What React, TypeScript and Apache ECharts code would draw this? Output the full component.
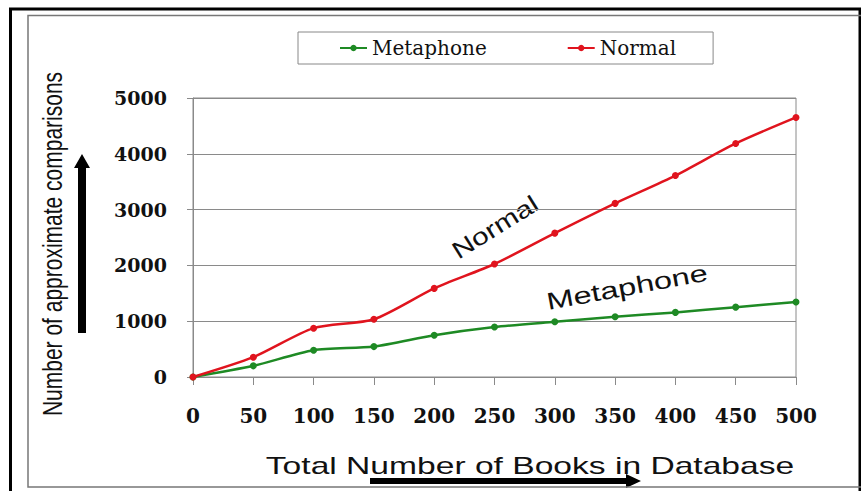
import React, { useEffect, useRef } from "react";
import * as echarts from "echarts";

const books = [0, 50, 100, 150, 200, 250, 300, 350, 400, 450, 500];
const metaphone = [0, 200, 480, 545, 748, 895, 990, 1080, 1158, 1252, 1345];
const normal = [0, 355, 875, 1035, 1588, 2025, 2578, 3112, 3610, 4185, 4652];
const seriesNames = ["Metaphone", "Normal"];
const yTitle = "Number of approximate comparisons";
const xTitle = "Total Number of Books in Database";

const RED = "#e0141e";
const GREEN = "#1e8a24";

export default function App() {
  const ref = useRef<HTMLDivElement>(null);
  useEffect(() => {
    const chart = echarts.init(ref.current!, null, { renderer: "svg" });
    const serifBold = {
      fontFamily: "DejaVu Serif",
      fontWeight: "bold" as const,
      color: "#111",
    };
    chart.setOption({
      animation: false,
      backgroundColor: "#fff",
      grid: {
        left: 193,
        right: 65,
        top: 98,
        bottom: 114,
        show: true,
        borderColor: "#8a8a8a",
        borderWidth: 1,
      },
      legend: {
        data: seriesNames,
        left: 298,
        top: 32,
        padding: [6, 37, 6, 41],
        itemGap: 80,
        itemWidth: 27,
        itemHeight: 8,
        borderColor: "#888",
        borderWidth: 1,
        textStyle: { fontFamily: "DejaVu Serif", fontSize: 20, color: "#111" },
      },
      xAxis: {
        type: "value",
        min: 0,
        max: 500,
        interval: 50,
        axisLine: { show: true, lineStyle: { color: "#8a8a8a", width: 1 } },
        axisTick: { show: true, length: 8, lineStyle: { color: "#8a8a8a" } },
        splitLine: { show: false },
        axisLabel: {
          ...serifBold,
          fontSize: 20,
          margin: 29,
          formatter: (v: number) => String(v),
        },
      },
      yAxis: {
        type: "value",
        min: 0,
        max: 5000,
        interval: 1000,
        axisLine: { show: true, lineStyle: { color: "#8a8a8a", width: 1 } },
        axisTick: { show: true, length: 6, lineStyle: { color: "#8a8a8a" } },
        splitLine: { show: true, lineStyle: { color: "#8a8a8a", width: 1 } },
        axisLabel: {
          ...serifBold,
          fontSize: 19,
          margin: 26,
          formatter: (v: number) => String(v),
        },
      },
      series: [
        {
          name: seriesNames[0],
          type: "line",
          data: books.map((b, i) => [b, metaphone[i]]),
          smooth: 0.25,
          symbol: "circle",
          symbolSize: 7,
          color: GREEN,
          lineStyle: { color: GREEN, width: 2.5 },
          itemStyle: { color: GREEN },
          z: 3,
        },
        {
          name: seriesNames[1],
          type: "line",
          data: books.map((b, i) => [b, normal[i]]),
          smooth: 0.25,
          symbol: "circle",
          symbolSize: 7,
          color: RED,
          lineStyle: { color: RED, width: 2.5 },
          itemStyle: { color: RED },
          z: 4,
        },
      ],
      graphic: [
        {
          type: "rect",
          shape: { x: 10.5, y: 9, width: 849.5, height: 495 },
          style: { fill: "none", stroke: "#000", lineWidth: 3 },
          silent: true,
          z: 100,
        },
        {
          type: "rect",
          shape: { x: 28, y: 15.5, width: 840, height: 471.5 },
          style: { fill: "none", stroke: "#777", lineWidth: 1.5 },
          silent: true,
          z: 100,
        },
        {
          type: "text",
          x: 52,
          y: 244,
          rotation: Math.PI / 2,
          scaleY: 1.35,
          style: {
            text: yTitle,
            fontFamily: "Liberation Sans",
            fontSize: 21,
            fill: "#111",
            align: "center",
            verticalAlign: "middle",
          },
          silent: true,
        },
        {
          type: "text",
          x: 530,
          y: 466,
          scaleX: 1.4,
          style: {
            text: xTitle,
            fontFamily: "Liberation Sans",
            fontSize: 24,
            fill: "#111",
            align: "center",
            verticalAlign: "middle",
          },
          silent: true,
        },
        {
          type: "text",
          x: 495,
          y: 227,
          rotation: (32 * Math.PI) / 180,
          scaleX: 1.25,
          style: {
            text: "Normal",
            fontFamily: "Liberation Sans",
            fontSize: 24,
            fill: "#111",
            align: "center",
            verticalAlign: "middle",
          },
          silent: true,
        },
        {
          type: "text",
          x: 627,
          y: 287,
          rotation: (10.5 * Math.PI) / 180,
          scaleX: 1.36,
          style: {
            text: "Metaphone",
            fontFamily: "Liberation Sans",
            fontSize: 24,
            fill: "#111",
            align: "center",
            verticalAlign: "middle",
          },
          silent: true,
        },
        {
          type: "polygon",
          shape: {
            points: [
              [78, 333],
              [78, 168],
              [74, 168],
              [82, 154],
              [90, 168],
              [86, 168],
              [86, 333],
            ],
          },
          style: { fill: "#000" },
          silent: true,
        },
        {
          type: "polygon",
          shape: {
            points: [
              [370, 478],
              [626, 478],
              [626, 474],
              [641, 481],
              [626, 488],
              [626, 484],
              [370, 484],
            ],
          },
          style: { fill: "#000" },
          silent: true,
        },
      ],
    });
    return () => chart.dispose();
  }, []);
  return (
    <div
      ref={ref}
      style={{ position: "fixed", left: 0, top: 0, width: 861, height: 491 }}
    />
  );
}
